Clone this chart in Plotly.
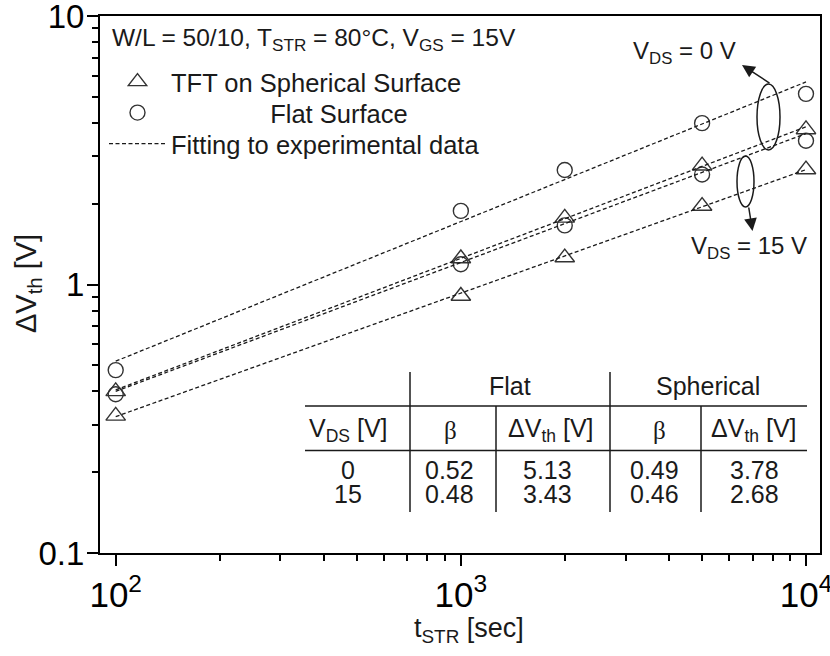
import plotly.graph_objects as go

# Stress time [s] and threshold-voltage shift [V]
t_str = [100, 1000, 2000, 5000, 10000]
flat_vds0 = [0.48, 1.88, 2.67, 3.99, 5.13]
flat_vds15 = [0.39, 1.19, 1.66, 2.57, 3.43]
sph_vds0 = [0.40, 1.25, 1.77, 2.77, 3.78]
sph_vds15 = [0.324, 0.906, 1.26, 1.96, 2.68]

# Power-law fits  dVth = V100 * (t/100)^beta
vds_values = [0, 15]
beta_flat = [0.52, 0.48]
beta_sph = [0.49, 0.46]
fit100_flat = [0.518, 0.40]
fit100_sph = [0.405, 0.322]
fit_span = [100, 10000]

FONT = "Liberation Sans, Arial, sans-serif"
SERIF = "Liberation Serif, Times New Roman, serif"
INK = "#1a1a1a"

# plot-area pixel box -> paper coordinates
L, R, T, B = 100, 820, 16, 553
def px(x):
    return (x - L) / (R - L)
def py(y):
    return (B - y) / (B - T)

fig = go.Figure()

mk_tri = dict(symbol="triangle-up-open", size=17, color="#333", line=dict(width=1.4, color="#333"))
mk_cir = dict(symbol="circle-open", size=15, color="#333", line=dict(width=1.4, color="#333"))
dash = dict(color=INK, width=1.3, dash="4px,2.5px")

fig.add_trace(go.Scatter(x=t_str, y=sph_vds0, mode="markers", marker=mk_tri,
                         name="TFT on Spherical Surface", legend="legend"))
fig.add_trace(go.Scatter(x=t_str, y=flat_vds0, mode="markers", marker=mk_cir,
                         name="\u00a0" * 14 + "Flat Surface", legend="legend2"))
fig.add_trace(go.Scatter(x=t_str, y=sph_vds15, mode="markers", marker=mk_tri, showlegend=False))
fig.add_trace(go.Scatter(x=t_str, y=flat_vds15, mode="markers", marker=mk_cir, showlegend=False))

fits = [(fit100_flat[0], beta_flat[0]), (fit100_flat[1], beta_flat[1]),
        (fit100_sph[0], beta_sph[0]), (fit100_sph[1], beta_sph[1])]
for i, (v100, beta) in enumerate(fits):
    fig.add_trace(go.Scatter(
        x=fit_span, y=[v100 * (t / 100) ** beta for t in fit_span],
        mode="lines", line=dash, name="Fitting to experimental data",
        legend="legend3", showlegend=(i == 0)))

shapes = []
annotations = []

def text(x, y, s, size=24, family=FONT, xanchor="center", angle=0):
    annotations.append(dict(xref="paper", yref="paper", x=px(x), y=py(y), text=s,
                            showarrow=False, xanchor=xanchor, yanchor="middle",
                            textangle=angle,
                            font=dict(size=size, family=family, color=INK)))

# condition line above the legend
text(110, 39, "W/L = 50/10, T<sub>STR</sub> = 80°C, V<sub>GS</sub> = 15V", size=24.5,
     xanchor="left")

# axis titles
text(469, 630, "t<sub>STR</sub> [sec]", size=27)
text(28, 284, "ΔV<sub>th</sub> [V]", size=29, angle=-90)

# V_DS groups: ellipses with arrows
shapes.append(dict(type="circle", xref="paper", yref="paper",
                   x0=px(757), x1=px(780), y0=py(150), y1=py(84),
                   line=dict(color=INK, width=1.5)))
shapes.append(dict(type="circle", xref="paper", yref="paper",
                   x0=px(737), x1=px(754), y0=py(207), y1=py(156),
                   line=dict(color=INK, width=1.5)))
annotations.append(dict(xref="paper", yref="paper", x=px(742), y=py(65), text="",
                        showarrow=True, ax=29, ay=19, arrowhead=2, arrowsize=1.7,
                        arrowwidth=1.5, arrowcolor=INK))
annotations.append(dict(xref="paper", yref="paper", x=px(752.5), y=py(231), text="",
                        showarrow=True, ax=-4, ay=-25, arrowhead=2, arrowsize=1.7,
                        arrowwidth=1.5, arrowcolor=INK))
text(684, 52, "V<sub>DS</sub> = %d V" % vds_values[0])
text(749, 247, "V<sub>DS</sub> = %d V" % vds_values[1])

# Inset table of fit results
def hline(y, x0, x1):
    shapes.append(dict(type="line", xref="paper", yref="paper", x0=px(x0), x1=px(x1),
                       y0=py(y), y1=py(y), line=dict(color=INK, width=1.5)))
def vline(x, y0, y1):
    shapes.append(dict(type="line", xref="paper", yref="paper", x0=px(x), x1=px(x),
                       y0=py(y0), y1=py(y1), line=dict(color=INK, width=1.5)))

hline(406, 305, 807)
hline(450.5, 305, 807)
vline(410, 372, 512)
vline(610, 372, 512)
vline(496, 406, 512)
vline(701, 406, 512)

TS = 25
text(510, 386, "Flat", TS)
text(708, 386, "Spherical", TS)
text(348, 430, "V<sub>DS</sub> [V]", TS)
text(450, 430, "β", TS, SERIF)
text(551, 430, "ΔV<sub>th</sub> [V]", TS)
text(659, 430, "β", TS, SERIF)
text(754, 430, "ΔV<sub>th</sub> [V]", TS)

dv_flat = [flat_vds0[-1], flat_vds15[-1]]
dv_sph = [sph_vds0[-1], sph_vds15[-1]]
for row, y in enumerate([470, 494]):
    text(348, y, str(vds_values[row]), TS)
    text(449, y, "%.2f" % beta_flat[row], TS)
    text(547, y, "%.2f" % dv_flat[row], TS)
    text(654, y, "%.2f" % beta_sph[row], TS)
    text(754, y, "%.2f" % dv_sph[row], TS)

axis_common = dict(
    type="log", showgrid=False, zeroline=False, showline=True, linewidth=2,
    linecolor="black", mirror=True, ticks="outside", ticklen=11, tickwidth=2,
    tickcolor="black", dtick=1, automargin=False, ticklabeloverflow="allow",
    minor=dict(ticks="outside", ticklen=6, tickwidth=1.6, tickcolor="black", dtick="D1"),
)

leg_common = dict(xanchor="left", yanchor="middle", bgcolor="rgba(0,0,0,0)",
                  borderwidth=0, itemwidth=57, font=dict(size=25.5, family=FONT, color=INK))

fig.update_layout(
    width=830, height=656,
    margin=dict(l=L, r=830 - R, t=T, b=656 - B),
    paper_bgcolor="white", plot_bgcolor="white",
    font=dict(family=FONT, color=INK),
    xaxis=dict(axis_common, range=[1.9545, 4.0406], exponentformat="power",
               tickfont=dict(size=28, family=FONT, color="black")),
    yaxis=dict(axis_common, range=[-1, 1], ticklabelstandoff=-4,
               tickfont=dict(size=33, family=FONT, color="black")),
    legend=dict(leg_common, x=px(104), y=py(82)),
    legend2=dict(leg_common, x=px(104), y=py(113)),
    legend3=dict(leg_common, x=px(104), y=py(144)),
    shapes=shapes,
    annotations=annotations,
)

fig.write_html("out.html")
